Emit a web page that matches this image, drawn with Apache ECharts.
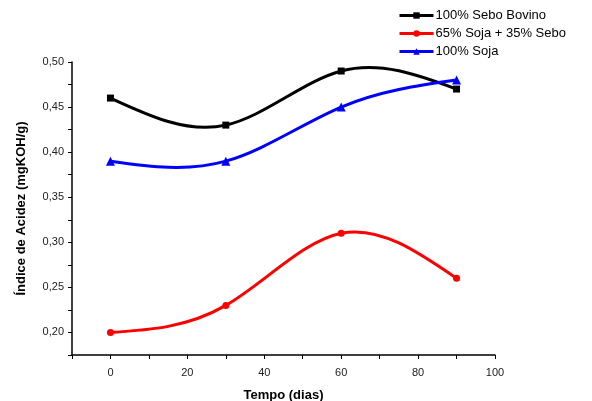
<!DOCTYPE html>
<html>
<head>
<meta charset="utf-8">
<script src="https://cdn.jsdelivr.net/npm/echarts@6/dist/echarts.min.js"></script>
<style>
  html, body { margin: 0; padding: 0; background: #fff; }
  #chart { width: 592px; height: 401px; }
</style>
</head>
<body>
<div id="chart"></div>
<script>
const tempo = [0, 30, 60, 90]
const seboBovino = [0.46, 0.43, 0.49, 0.47]
const sojaSebo = [0.20, 0.23, 0.31, 0.26]
const soja = [0.39, 0.39, 0.45, 0.48]
const nomes = ['100% Sebo Bovino', '65% Soja + 35% Sebo', '100% Soja']
const cores = ['#000000', '#ff0000', '#0000ff']

const pares = (ys) => tempo.map((x, i) => [x, ys[i]])
const fonte = 'Liberation Sans, Arial, sans-serif'

// derivadas de um spline cubico natural (como o "spline" do Origin)
function derivadas(xs, ys) {
  const n = xs.length
  const h = [], M = new Array(n).fill(0)
  for (let i = 0; i < n - 1; i++) h.push(xs[i + 1] - xs[i])
  const a = [], b = [], c = [], d = []
  for (let i = 1; i < n - 1; i++) {
    a.push(h[i - 1]); b.push(2 * (h[i - 1] + h[i])); c.push(h[i])
    d.push(6 * ((ys[i + 1] - ys[i]) / h[i] - (ys[i] - ys[i - 1]) / h[i - 1]))
  }
  const m = b.length
  for (let i = 1; i < m; i++) {
    const w = a[i] / b[i - 1]
    b[i] -= w * c[i - 1]; d[i] -= w * d[i - 1]
  }
  for (let i = m - 1; i >= 0; i--) {
    M[i + 1] = (d[i] - (i < m - 1 ? c[i] * M[i + 2] : 0)) / b[i]
  }
  const seg = []
  for (let i = 0; i < n - 1; i++) {
    const s = (ys[i + 1] - ys[i]) / h[i]
    seg.push([s - h[i] * (2 * M[i] + M[i + 1]) / 6, s + h[i] * (M[i] + 2 * M[i + 1]) / 6])
  }
  return seg
}

function curva(nome, dados, cor) {
  const seg = derivadas(tempo, dados)
  return {
    name: nome,
    type: 'custom',
    data: pares(dados),
    z: 2,
    silent: true,
    renderItem: (params, api) => {
      const i = params.dataIndex
      if (i >= tempo.length - 1) return null
      const x0 = tempo[i], x1 = tempo[i + 1], h = x1 - x0
      const p0 = api.coord([x0, dados[i]])
      const p1 = api.coord([x0 + h / 3, dados[i] + seg[i][0] * h / 3])
      const p2 = api.coord([x1 - h / 3, dados[i + 1] - seg[i][1] * h / 3])
      const p3 = api.coord([x1, dados[i + 1]])
      return {
        type: 'bezierCurve',
        shape: { x1: p0[0], y1: p0[1], cpx1: p1[0], cpy1: p1[1], cpx2: p2[0], cpy2: p2[1], x2: p3[0], y2: p3[1] },
        style: { stroke: cor, lineWidth: 3, fill: null }
      }
    }
  }
}

function pontos(nome, dados, cor, simbolo, tam) {
  return {
    name: nome,
    type: 'line',
    data: pares(dados),
    z: 3,
    symbol: simbolo,
    symbolSize: tam,
    showAllSymbol: true,
    itemStyle: { color: cor },
    lineStyle: { color: cor, width: 0, opacity: 0 }
  }
}

const chart = echarts.init(document.getElementById('chart'))

chart.setOption({
  animation: false,
  textStyle: { fontFamily: fonte },
  legend: {
    orient: 'vertical',
    left: 393,
    top: 4,
    itemWidth: 34,
    itemHeight: 8,
    itemGap: 5,
    textStyle: { fontSize: 13, color: '#000', fontFamily: fonte, padding: [0, 0, 0, -3] },
    data: nomes.map((n, i) => ({
      name: n,
      lineStyle: { color: cores[i], width: 3, opacity: 1 }
    }))
  },
  grid: { left: 72, right: 97, top: 62, bottom: 46, containLabel: false, outerBoundsMode: 'none' },
  xAxis: {
    type: 'value',
    min: -10,
    max: 100,
    interval: 10,
    name: 'Tempo (dias)',
    nameLocation: 'middle',
    nameGap: 34,
    nameTextStyle: { fontSize: 13, fontWeight: 'bold', color: '#000' },
    axisLine: { onZero: false, lineStyle: { color: '#000', width: 1.5 } },
    axisTick: { length: 4, lineStyle: { color: '#000' } },
    axisLabel: {
      fontSize: 11, color: '#222', margin: 12,
      formatter: v => (Math.round(v) % 20 === 0 ? String(Math.round(v)) : '')
    },
    splitLine: { show: false }
  },
  yAxis: {
    type: 'value',
    min: 0.175,
    max: 0.5,
    interval: 0.025,
    name: 'Índice de Acidez (mgKOH/g)',
    nameLocation: 'middle',
    nameGap: 44,
    nameTextStyle: { fontSize: 13, fontWeight: 'bold', color: '#000' },
    axisLine: { show: true, onZero: false, lineStyle: { color: '#000', width: 1.5 } },
    axisTick: { show: true, length: 4, lineStyle: { color: '#000' } },
    axisLabel: {
      fontSize: 11, color: '#222', margin: 8,
      formatter: v => {
        const k = Math.round(v * 1000)
        return k % 50 === 0 ? (k / 1000).toFixed(2).replace('.', ',') : ''
      }
    },
    splitLine: { show: false }
  },
  series: [
    pontos(nomes[0], seboBovino, cores[0], 'rect', 7),
    pontos(nomes[1], sojaSebo, cores[1], 'circle', 7),
    pontos(nomes[2], soja, cores[2], 'triangle', 9),
    curva(nomes[0], seboBovino, cores[0]),
    curva(nomes[1], sojaSebo, cores[1]),
    curva(nomes[2], soja, cores[2])
  ]
})
</script>
</body>
</html>
